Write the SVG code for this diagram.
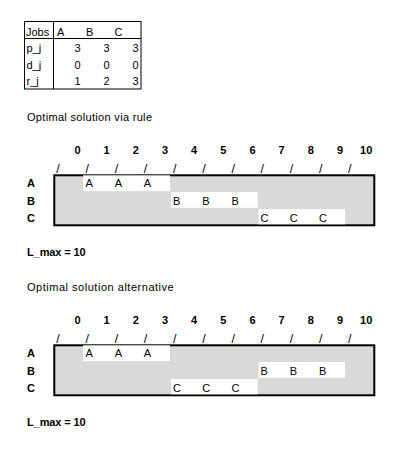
<svg xmlns="http://www.w3.org/2000/svg" width="407" height="454" viewBox="0 0 407 454">
<style>
text{font-family:"Liberation Sans",Arial,sans-serif;font-size:11px;fill:#000}
.b{font-weight:bold}
.e{text-anchor:end}
.s text{font-size:12.5px}
.box{fill:#d9d9d9;stroke:#000;stroke-width:2}
.w{fill:#fff}
.tl{fill:none;stroke:#000;stroke-width:1}
</style>
<rect width="407" height="454" fill="#fff"/>
<g id="jobs-table">
<rect class="tl" x="24.5" y="21.5" width="116.5" height="67.5"/>
<line class="tl" x1="53.5" y1="21.5" x2="53.5" y2="89"/>
<line class="tl" x1="24.5" y1="38.5" x2="141" y2="38.5"/>
<text x="26" y="35.5">Jobs</text>
<text x="57" y="35.5">A</text>
<text x="86" y="35.5">B</text>
<text x="114.5" y="35.5">C</text>
<text x="26.5" y="52">p_j</text>
<text x="26.5" y="68.5">d_j</text>
<text x="26.5" y="85">r_j</text>
<text class="e" x="80.5" y="52">3</text><text class="e" x="109.5" y="52">3</text><text class="e" x="138.5" y="52">3</text>
<text class="e" x="80.5" y="68.5">0</text><text class="e" x="109.5" y="68.5">0</text><text class="e" x="138.5" y="68.5">0</text>
<text class="e" x="80.5" y="85">1</text><text class="e" x="109.5" y="85">2</text><text class="e" x="138.5" y="85">3</text>
</g>
<text x="27" y="120.5" textLength="125" lengthAdjust="spacing">Optimal solution via rule</text>
<g id="chart1">
<g class="b">
<text class="e" x="80.5" y="154">0</text><text class="e" x="109.7" y="154">1</text><text class="e" x="138.8" y="154">2</text><text class="e" x="168" y="154">3</text><text class="e" x="197.2" y="154">4</text><text class="e" x="226.4" y="154">5</text><text class="e" x="255.6" y="154">6</text><text class="e" x="284.7" y="154">7</text><text class="e" x="313.9" y="154">8</text><text class="e" x="343.1" y="154">9</text><text class="e" x="372.3" y="154">10</text>
</g>
<g class="s">
<text x="56.3" y="172.5">/</text><text x="85.5" y="172.5">/</text><text x="114.7" y="172.5">/</text><text x="143.8" y="172.5">/</text><text x="173" y="172.5">/</text><text x="202.2" y="172.5">/</text><text x="231.4" y="172.5">/</text><text x="260.6" y="172.5">/</text><text x="289.7" y="172.5">/</text><text x="318.9" y="172.5">/</text><text x="348.1" y="172.5">/</text>
</g>
<text class="b" x="27" y="187">A</text>
<text class="b" x="27" y="205">B</text>
<text class="b" x="27" y="222">C</text>
<rect class="box" x="54.3" y="175.3" width="320" height="50"/>
<rect class="w" x="83" y="175.3" width="87" height="15.8"/>
<rect class="w" x="171" y="192" width="86.6" height="15.8"/>
<rect class="w" x="258.6" y="209" width="86.5" height="15.3"/>
<text x="85.5" y="187">A</text><text x="114.7" y="187">A</text><text x="143.8" y="187">A</text>
<text x="173" y="205">B</text><text x="202.2" y="205">B</text><text x="231.4" y="205">B</text>
<text x="260.6" y="221.5">C</text><text x="289.7" y="221.5">C</text><text x="318.9" y="221.5">C</text>
</g>
<text class="b" x="27" y="256" textLength="58.7" lengthAdjust="spacing">L_max = 10</text>
<text x="27" y="290.5" textLength="146.7" lengthAdjust="spacing">Optimal solution alternative</text>
<g id="chart2">
<g class="b">
<text class="e" x="80.5" y="324">0</text><text class="e" x="109.7" y="324">1</text><text class="e" x="138.8" y="324">2</text><text class="e" x="168" y="324">3</text><text class="e" x="197.2" y="324">4</text><text class="e" x="226.4" y="324">5</text><text class="e" x="255.6" y="324">6</text><text class="e" x="284.7" y="324">7</text><text class="e" x="313.9" y="324">8</text><text class="e" x="343.1" y="324">9</text><text class="e" x="372.3" y="324">10</text>
</g>
<g class="s">
<text x="56.3" y="342.5">/</text><text x="85.5" y="342.5">/</text><text x="114.7" y="342.5">/</text><text x="143.8" y="342.5">/</text><text x="173" y="342.5">/</text><text x="202.2" y="342.5">/</text><text x="231.4" y="342.5">/</text><text x="260.6" y="342.5">/</text><text x="289.7" y="342.5">/</text><text x="318.9" y="342.5">/</text><text x="348.1" y="342.5">/</text>
</g>
<text class="b" x="27" y="357">A</text>
<text class="b" x="27" y="375">B</text>
<text class="b" x="27" y="392">C</text>
<rect class="box" x="54.3" y="345.3" width="320" height="50"/>
<rect class="w" x="83" y="345.3" width="87" height="15.8"/>
<rect class="w" x="258.6" y="362" width="86.5" height="15.8"/>
<rect class="w" x="171" y="379" width="86.6" height="15.3"/>
<text x="85.5" y="357">A</text><text x="114.7" y="357">A</text><text x="143.8" y="357">A</text>
<text x="260.6" y="375">B</text><text x="289.7" y="375">B</text><text x="318.9" y="375">B</text>
<text x="173" y="391.5">C</text><text x="202.2" y="391.5">C</text><text x="231.4" y="391.5">C</text>
</g>
<text class="b" x="27" y="426" textLength="58.7" lengthAdjust="spacing">L_max = 10</text>
</svg>
